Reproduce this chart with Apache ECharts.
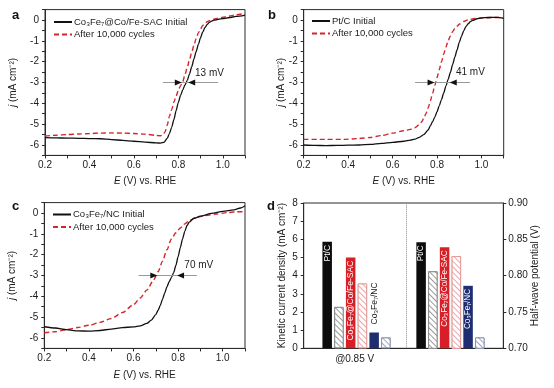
<!DOCTYPE html>
<html>
<head>
<meta charset="utf-8">
<script src="https://cdn.jsdelivr.net/npm/echarts@6.0.0/dist/echarts.min.js"></script>
<style>
html,body{margin:0;padding:0;background:#ffffff;}
#chart{width:554px;height:388px;}
</style>
</head>
<body>
<div id="chart"></div>
<script>
// ================= DATA =================
// Panel a : Co3Fe7@Co/Fe-SAC  (E in V vs RHE, j in mA cm-2)
const aInitE  = [0.20,0.25,0.30,0.35,0.40,0.45,0.50,0.55,0.60,0.65,0.70,0.72,0.735,0.75,0.76,0.77,0.78,0.79,0.80,0.81,0.82,0.83,0.84,0.85,0.86,0.87,0.88,0.89,0.90,0.91,0.92,0.93,0.94,0.95,0.96,0.98,1.00,1.03,1.06,1.10];
const aInitJ  = [-5.65,-5.66,-5.67,-5.68,-5.69,-5.70,-5.74,-5.78,-5.82,-5.86,-5.90,-5.91,-5.87,-5.68,-5.45,-5.15,-4.78,-4.35,-3.95,-3.62,-3.35,-3.12,-2.90,-2.60,-2.25,-1.88,-1.52,-1.17,-0.85,-0.57,-0.36,-0.21,-0.11,-0.05,-0.01,0.03,0.07,0.12,0.17,0.24];
const aAftE   = [0.20,0.25,0.30,0.35,0.40,0.45,0.50,0.55,0.60,0.65,0.70,0.72,0.73,0.74,0.75,0.76,0.77,0.78,0.79,0.80,0.81,0.82,0.83,0.84,0.85,0.86,0.87,0.88,0.89,0.90,0.91,0.92,0.93,0.94,0.96,0.98,1.00,1.03,1.06,1.10];
const aAftJ   = [-5.57,-5.53,-5.50,-5.47,-5.45,-5.43,-5.42,-5.43,-5.45,-5.48,-5.54,-5.56,-5.52,-5.38,-5.05,-4.62,-4.30,-3.95,-3.65,-3.38,-3.15,-2.95,-2.62,-2.28,-1.92,-1.56,-1.22,-0.90,-0.62,-0.42,-0.26,-0.15,-0.08,-0.03,0.04,0.09,0.13,0.19,0.25,0.32];

// Panel b : Pt/C
const bInitE  = [0.20,0.25,0.30,0.35,0.40,0.45,0.50,0.55,0.60,0.65,0.68,0.70,0.72,0.74,0.76,0.77,0.78,0.79,0.80,0.81,0.82,0.83,0.84,0.85,0.86,0.87,0.88,0.89,0.90,0.91,0.92,0.93,0.94,0.95,0.96,0.98,1.00,1.03,1.07,1.10];
const bInitJ  = [-6.00,-6.02,-6.03,-6.02,-6.01,-6.00,-5.97,-5.92,-5.87,-5.82,-5.77,-5.72,-5.63,-5.50,-5.28,-5.08,-4.88,-4.66,-4.40,-4.12,-3.82,-3.50,-3.17,-2.85,-2.52,-2.14,-1.78,-1.44,-1.08,-0.78,-0.52,-0.32,-0.18,-0.08,-0.02,0.06,0.10,0.12,0.13,0.08];
const bAftE   = [0.20,0.30,0.38,0.45,0.50,0.55,0.60,0.65,0.68,0.70,0.72,0.73,0.74,0.75,0.76,0.77,0.78,0.79,0.80,0.81,0.82,0.83,0.84,0.85,0.86,0.87,0.88,0.89,0.90,0.92,0.94,0.97,1.00,1.05,1.10];
const bAftJ   = [-5.73,-5.73,-5.73,-5.69,-5.64,-5.55,-5.43,-5.32,-5.25,-5.17,-5.02,-4.90,-4.74,-4.50,-4.22,-3.88,-3.52,-3.14,-2.76,-2.38,-2.00,-1.64,-1.30,-1.00,-0.76,-0.56,-0.42,-0.30,-0.20,-0.07,0.01,0.07,0.10,0.12,0.13];

// Panel c : Co3Fe7/NC
const cInitE  = [0.20,0.25,0.30,0.35,0.40,0.45,0.50,0.55,0.60,0.63,0.66,0.68,0.70,0.71,0.72,0.73,0.74,0.75,0.76,0.77,0.78,0.79,0.80,0.81,0.82,0.83,0.84,0.85,0.87,0.90,0.95,1.00,1.05,1.08,1.10];
const cInitJ  = [-5.46,-5.52,-5.60,-5.66,-5.67,-5.64,-5.57,-5.50,-5.47,-5.42,-5.30,-5.14,-4.88,-4.68,-4.44,-4.14,-3.84,-3.54,-3.30,-3.10,-2.86,-2.52,-2.10,-1.66,-1.24,-0.88,-0.60,-0.44,-0.26,-0.15,-0.02,0.08,0.15,0.24,0.35];
const cAftE   = [0.20,0.25,0.30,0.35,0.40,0.45,0.50,0.55,0.60,0.63,0.66,0.69,0.71,0.73,0.75,0.77,0.79,0.81,0.83,0.85,0.88,0.92,0.97,1.02,1.06,1.10];
const cAftJ   = [-5.75,-5.70,-5.60,-5.50,-5.39,-5.25,-5.07,-4.78,-4.40,-4.08,-3.70,-3.22,-2.82,-2.32,-1.76,-1.25,-0.95,-0.72,-0.52,-0.36,-0.22,-0.12,-0.05,0.02,0.06,0.06];

// Series / legend names
const namesInit = ['Co₃Fe₇@Co/Fe-SAC Initial', 'Pt/C Initial', 'Co₃Fe₇/NC Initial'];
const nameAfter = 'After 10,000 cycles';

// Half-wave shift annotations (arrow tips in E, at j = -3)
const shiftText  = ['13 mV', '41 mV', '70 mV'];
const shiftLeft  = [0.816, 0.789, 0.707];
const shiftRight = [0.844, 0.857, 0.795];
const shiftFrom  = [0.731, 0.701, 0.623];
const shiftTo    = [0.979, 0.948, 0.885];
const shiftLabelE = [0.875, 0.885, 0.828];
const shiftLabelJ = [-2.55, -2.50, -2.50];
const shiftJ = -3;

// Panel d : bars
const dBarNames   = ['Pt/C', 'Pt/C after', 'Co₃Fe₇@Co/Fe-SAC', 'Co₃Fe₇@Co/Fe-SAC after', 'Co₃Fe₇/NC', 'Co₃Fe₇/NC after'];
const dBarText    = ['Pt/C', '', 'Co₃Fe₇@Co/Fe-SAC', '', 'Co₃Fe₇/NC', ''];
const dKinetic    = [5.86, 2.28, 5.00, 3.57, 0.87, 0.60];      // mA cm-2 @0.85 V (left axis)
const dHalfWave   = [0.846, 0.806, 0.839, 0.827, 0.786, 0.715]; // V (right axis)
const dGroupLabel = ['@0.85 V', ''];
const dLeftTicks  = [0, 8, 1];
const dRightTicks = [0.70, 0.90, 0.05];

// ================= STYLE =================
const FONT = "'Liberation Sans', Arial, Helvetica, sans-serif";
const INK = '#1c1c1c';
const AXIS = '#2a2a2a';
const BLACK = '#111111';
const RED = '#d3262d';

const pairs = (xs, ys) => xs.map((x, i) => [x, ys[i]]);

function hatch(line, border) {
  return {
    color: '#ffffff', borderColor: border, borderWidth: 1,
    decal: { symbol: 'rect', symbolSize: 1, color: line, backgroundColor: '#ffffff',
             dashArrayX: [1, 0], dashArrayY: [1, 2.8], rotation: Math.PI / 4 }
  };
}
const dBarStyles = [
  { color: '#0c0c0c' }, hatch('#9a9a9a', '#8a8a8a'),
  { color: '#d71f27' }, hatch('#eaa6a6', '#e59a9a'),
  { color: '#1f2e70' }, hatch('#a0a5c0', '#8c93b3')
];

const axisLine = { show: true, onZero: false, lineStyle: { color: AXIS, width: 1 } };
const axisTick = { show: true, length: 3, lineStyle: { color: AXIS, width: 1 } };
const nameStyle = { color: INK, fontSize: 10, fontFamily: FONT,
  rich: { i: { fontStyle: 'italic', color: INK, fontSize: 10, fontFamily: FONT } } };

function xAxisE(gridIndex, nameGap) {
  return {
    type: 'value', gridIndex, min: 0.2, max: 1.1, interval: 0.1,
    axisLine, axisTick,
    axisLabel: { margin: 5, color: INK, fontSize: 10, fontFamily: FONT,
      formatter: v => { const k = Math.round(v * 10); return (k % 2 === 0 && k <= 10) ? (k / 10).toFixed(1) : ''; } },
    splitLine: { show: false },
    name: '{i|E} (V) vs. RHE', nameLocation: 'middle', nameGap, nameTextStyle: nameStyle, nameMoveOverlap: false
  };
}
function yAxisJ(gridIndex, nameGap) {
  return {
    type: 'value', gridIndex, min: -6.5, max: 0.5, interval: 0.5,
    axisLine, axisTick,
    axisLabel: { margin: 6, color: INK, fontSize: 10, fontFamily: FONT,
      formatter: v => Math.abs(v - Math.round(v)) < 1e-6 ? String(Math.round(v) === 0 ? 0 : Math.round(v)) : '' },
    splitLine: { show: false },
    name: '{i|j} (mA cm⁻²)', nameLocation: 'middle', nameGap, nameTextStyle: nameStyle, nameMoveOverlap: false
  };
}

function annotation(k) {
  const tipHalf = 0.016;
  return {
    markLine: {
      silent: true, animation: false, symbol: ['none', 'none'], label: { show: false },
      emphasis: { disabled: true },
      data: [
        [{ coord: [shiftFrom[k], shiftJ], lineStyle: { color: '#9a9a9a', width: 1, type: 'solid' } },
         { coord: [shiftTo[k], shiftJ] }],
        [{ coord: [shiftLeft[k] - tipHalf - 0.002, shiftJ], symbol: 'none', lineStyle: { color: BLACK, width: 1, type: 'solid' } },
         { coord: [shiftLeft[k] - tipHalf, shiftJ], symbol: 'triangle', symbolSize: [6, 7] }],
        [{ coord: [shiftRight[k] + tipHalf + 0.002, shiftJ], symbol: 'none', lineStyle: { color: BLACK, width: 1, type: 'solid' } },
         { coord: [shiftRight[k] + tipHalf, shiftJ], symbol: 'triangle', symbolSize: [6, 7] }]
      ]
    },
    markPoint: {
      silent: true, animation: false, symbol: 'circle', symbolSize: 0,
      data: [{ coord: [shiftLabelE[k], shiftLabelJ[k]],
        label: { show: true, position: 'right', distance: 0, formatter: shiftText[k],
                 color: INK, fontSize: 10, fontFamily: FONT } }]
    }
  };
}

function curve(name, xi, E, J, color, dashed, extra) {
  return Object.assign({
    type: 'line', name, xAxisIndex: xi, yAxisIndex: xi, data: pairs(E, J),
    symbol: 'none', smooth: 0.25, smoothMonotone: 'x', animation: false, silent: true,
    lineStyle: { color, width: dashed ? 1.4 : 1.3, type: dashed ? [5, 3] : 'solid' },
    itemStyle: { color }
  }, extra || {});
}

// ---- panel d bar data built from the arrays ----
const SLOTS = 18;                 // positions across panel d
const leftStart = 2, rightStart = 10, dividerSlot = 8.7;
const slotNames = Array.from({ length: SLOTS }, (_, i) => 's' + i);
const groupLabelSlot = leftStart + 2;

function barLabel(text, value, inside, size) {
  if (!text) return { show: false };
  if (inside) {
    return { show: true, formatter: text, position: 'insideTop', distance: 3, rotate: 90,
             align: 'right', verticalAlign: 'middle', color: '#ffffff', fontSize: size, fontFamily: FONT };
  }
  return { show: true, formatter: text, position: 'top', distance: 8, rotate: 90,
           align: 'left', verticalAlign: 'middle', color: INK, fontSize: size, fontFamily: FONT };
}

const leftData = slotNames.map(() => '-');
dKinetic.forEach((v, i) => {
  leftData[leftStart + i] = { value: v, name: dBarNames[i], itemStyle: dBarStyles[i],
    label: barLabel(dBarText[i], v, v > 2, 8.6) };
});
const rightData = slotNames.map(() => '-');
dHalfWave.forEach((v, i) => {
  rightData[rightStart + i] = { value: v, name: dBarNames[i], itemStyle: dBarStyles[i],
    label: barLabel(dBarText[i], v, true, 8.2) };
});

// ================= CHART =================
const chart = echarts.init(document.getElementById('chart'), null, { renderer: 'canvas' });

const gridBase = { show: true, borderColor: AXIS, borderWidth: 1, backgroundColor: 'transparent', outerBoundsMode: 'none', containLabel: false };

const option = {
  backgroundColor: '#ffffff',
  animation: false,
  textStyle: { fontFamily: FONT },
  title: [
    { text: 'a', left: 12, top: 9 },
    { text: 'b', left: 268, top: 9 },
    { text: 'c', left: 12, top: 200 },
    { text: 'd', left: 267, top: 200 }
  ].map(t => Object.assign(t, { padding: 0, textStyle: { fontSize: 13, fontWeight: 'bold', color: '#111', fontFamily: FONT } })),
  legend: [
    { data: [namesInit[0], nameAfter], left: 53, top: 17 },
    { data: [namesInit[1], nameAfter], left: 311, top: 16 },
    { data: [namesInit[2], nameAfter], left: 52, top: 209.5 }
  ].map(l => Object.assign(l, {
    orient: 'vertical', padding: 0, itemWidth: 18, itemHeight: 10, itemGap: 2.6, selectedMode: false,
    itemStyle: { opacity: 0, borderWidth: 0 },
    textStyle: { fontSize: 9.5, color: INK, fontFamily: FONT, padding: [0, 0, 0, -3] }
  })),
  grid: [
    Object.assign({ left: 45, top: 9.6, width: 200, height: 145.8 }, gridBase),
    Object.assign({ left: 303.7, top: 9.6, width: 200, height: 145.8 }, gridBase),
    Object.assign({ left: 44.3, top: 202.6, width: 200.7, height: 145.8 }, gridBase),
    Object.assign({ left: 303.7, top: 203, width: 199.6, height: 145.3 }, gridBase)
  ],
  xAxis: [
    xAxisE(0, 21), xAxisE(1, 21), xAxisE(2, 22),
    { type: 'category', gridIndex: 3, data: slotNames, boundaryGap: false,
      axisLine, axisTick: { show: false },
      axisLabel: { interval: 0, margin: 6, color: INK, fontSize: 10, fontFamily: FONT, padding: [0, 0, 0, 8],
        formatter: (v, idx) => idx === groupLabelSlot ? dGroupLabel[0] : '' },
      splitLine: { show: false } },
    { type: 'value', gridIndex: 3, min: 0, max: SLOTS - 1, show: false }
  ],
  yAxis: [
    yAxisJ(0, 27), yAxisJ(1, 17), yAxisJ(2, 27),
    { type: 'value', gridIndex: 3, min: dLeftTicks[0], max: dLeftTicks[1], interval: dLeftTicks[2],
      axisLine, axisTick, splitLine: { show: false },
      axisLabel: { margin: 6, color: INK, fontSize: 10, fontFamily: FONT },
      name: 'Kinetic current density (mA cm⁻²)', nameLocation: 'middle', nameGap: 16,
      nameTextStyle: nameStyle, nameMoveOverlap: false },
    { type: 'value', gridIndex: 3, position: 'right', min: dRightTicks[0], max: dRightTicks[1], interval: dRightTicks[2],
      axisLine, axisTick, splitLine: { show: false },
      axisLabel: { margin: 5, color: INK, fontSize: 10, fontFamily: FONT, formatter: v => v.toFixed(2) },
      name: 'Half-wave potential (V)', nameLocation: 'middle', nameGap: 27,
      nameTextStyle: nameStyle, nameMoveOverlap: false }
  ],
  series: [
    curve(nameAfter, 0, aAftE, aAftJ, RED, true),
    curve(namesInit[0], 0, aInitE, aInitJ, BLACK, false, annotation(0)),
    curve(nameAfter, 1, bAftE, bAftJ, RED, true),
    curve(namesInit[1], 1, bInitE, bInitJ, BLACK, false, annotation(1)),
    curve(nameAfter, 2, cAftE, cAftJ, RED, true),
    curve(namesInit[2], 2, cInitE, cInitJ, BLACK, false, annotation(2)),
    { type: 'bar', name: 'Kinetic current density', xAxisIndex: 3, yAxisIndex: 3, data: leftData,
      barWidth: 9.5, barGap: '-100%', animation: false, silent: true },
    { type: 'bar', name: 'Half-wave potential', xAxisIndex: 3, yAxisIndex: 4, data: rightData,
      barWidth: 9.5, barGap: '-100%', animation: false, silent: true },
    { type: 'line', name: 'divider', xAxisIndex: 4, yAxisIndex: 3, data: [], silent: true, animation: false,
      markLine: { silent: true, animation: false, symbol: ['none', 'none'], label: { show: false },
        lineStyle: { type: 'dotted', color: '#8a8a8a', width: 1 },
        data: [{ xAxis: dividerSlot }] } }
  ]
};
chart.setOption(option);
</script>
</body>
</html>
